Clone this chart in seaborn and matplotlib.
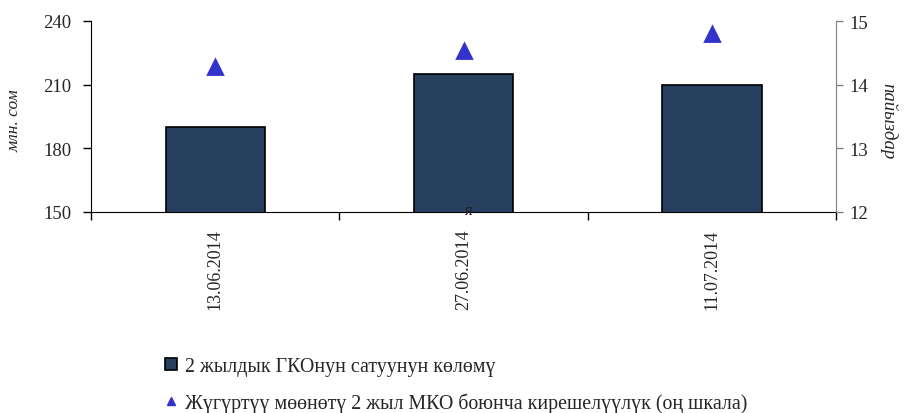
import matplotlib
matplotlib.use("Agg")
import matplotlib.pyplot as plt
import seaborn as sns
import pandas as pd
from matplotlib.lines import Line2D
from matplotlib.ticker import FixedLocator

dates = ["13.06.2014", "27.06.2014", "11.07.2014"]
volume = [190, 215, 210]
yields = [14.28, 14.53, 14.80]

bar_label = "2 жылдык ГКОнун сатуунун көлөмү"
tri_label = "Жүгүртүү мөөнөтү 2 жыл МКО боюнча кирешелүүлүк (оң шкала)"
left_ylabel = "млн. сом"
right_ylabel = "пайыздар"
left_ticks = [150, 180, 210, 240]
right_ticks = [12, 13, 14, 15]

sns.set_style("white")
plt.rcParams["font.family"] = ["Liberation Serif", "DejaVu Serif"]

df = pd.DataFrame({"date": dates, "volume": volume, "yield": yields})

fig = plt.figure(figsize=(9.06, 4.14), dpi=100)
ax = fig.add_axes([91/906, 1-213/414, 745/906, 191/414])

bar_color = "#27405F"
tri_color = "#3333CC"

sns.barplot(data=df, x="date", y="volume", ax=ax, color=bar_color, width=0.4,
            edgecolor="black", linewidth=1.2, saturation=1)
ax2 = ax.twinx()
sns.pointplot(data=df, x="date", y="yield", ax=ax2, color=tri_color, markers="^",
              linestyles="none", markersize=10, errorbar=None)

ax.set_xlim(-0.5, 2.5)
ax.set_ylim(150, 240)
ax2.set_ylim(12, 15)
ax.set_yticks(left_ticks)
ax2.set_yticks(right_ticks)
ax.set_xlabel("")
ax.set_ylabel("")
ax2.set_xlabel("")
ax2.set_ylabel("")

for a in (ax, ax2):
    a.grid(False)
    a.spines["top"].set_visible(False)

ax.spines["right"].set_visible(False)
ax.spines["left"].set_color("black")
ax.spines["bottom"].set_color("black")
ax2.spines["left"].set_visible(False)
ax2.spines["bottom"].set_visible(False)
ax2.spines["right"].set_color("#808080")

ax.tick_params(axis="y", which="major", direction="out", length=6, width=1,
               color="black", labelsize=13.5, pad=8, left=True)
ax2.tick_params(axis="y", which="major", direction="out", length=5, width=1,
                color="#808080", labelsize=13.5, pad=5, right=True)
ax.tick_params(axis="x", which="major", length=0, labelsize=13, pad=12)
ax.set_xticks(range(len(dates)))
ax.set_xticklabels(dates, rotation=90, va="top")
ax.xaxis.set_minor_locator(FixedLocator([-0.5, 0.5, 1.5, 2.5]))
ax.tick_params(axis="x", which="minor", direction="out", length=6, width=1,
               color="black", bottom=True)

fig.text(15/906, 1-121/414, left_ylabel, rotation=90, ha="center", va="center",
         fontsize=12.5, style="italic")
fig.text(888/906, 1-121/414, right_ylabel, rotation=-90, ha="center", va="center",
         fontsize=13.5, style="italic")
fig.text(469/906, 1-211/414, "я", ha="center", va="center", fontsize=12,
         color="#222222", zorder=10)

handles = [
    Line2D([], [], linestyle="none", marker="s", markersize=9,
           markerfacecolor=bar_color, markeredgecolor="black", markeredgewidth=1.2),
    Line2D([], [], linestyle="none", marker="^", markersize=6,
           markerfacecolor=tri_color, markeredgecolor=tri_color),
]
fig.legend(handles, [bar_label, tri_label], loc="upper left",
           bbox_to_anchor=(155/906, 1-348/414), frameon=False, fontsize=14.3,
           labelspacing=0.85, handlelength=0.6, handletextpad=0.4, borderpad=0)

fig.savefig("out.png", dpi=100)
